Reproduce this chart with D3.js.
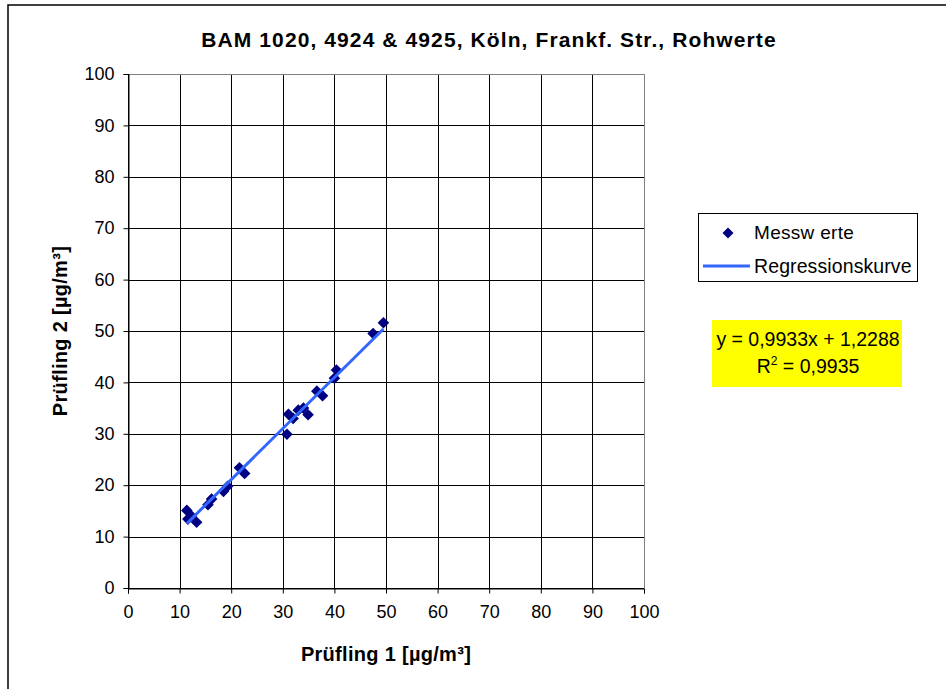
<!DOCTYPE html>
<html><head><meta charset="utf-8">
<script src="https://cdn.jsdelivr.net/npm/d3@7"></script>
<style>body{margin:0;background:#fff}svg{display:block;font-family:"Liberation Sans",Arial,sans-serif}</style>
</head><body><svg id="c" width="946" height="689"></svg>
<script>
const titleText = "BAM 1020, 4924 & 4925, Köln, Frankf. Str., Rohwerte";
const xTitle = "Prüfling 1 [µg/m³]";
const yTitle = "Prüfling 2 [µg/m³]";
const tickValues = [0,10,20,30,40,50,60,70,80,90,100];
const xValues = [11.4, 11.6, 12.3, 13.3, 15.5, 16.2, 18.5, 19.3, 21.6, 22.6, 30.8, 31.1, 32.0, 33.0, 34.0, 34.9, 36.6, 37.7, 40.0, 40.4, 47.5, 49.5];
const yValues = [15.1, 13.4, 14.0, 12.8, 16.2, 17.3, 18.8, 19.8, 23.4, 22.3, 29.9, 33.8, 33.0, 34.6, 35.0, 33.7, 38.3, 37.4, 40.8, 42.4, 49.5, 51.6];
const slope = 0.9933, intercept = 1.2288;
const eqLines = ["y = 0,9933x + 1,2288", "R² = 0,9935"];
const legendLabels = ["Messw erte", "Regressionskurve"];

const svg = d3.select("#c");
const x = d3.scaleLinear().domain([0,100]).range([128,644]);
const y = d3.scaleLinear().domain([0,100]).range([588,74]);

// outer frame
svg.append("rect").attr("x",8).attr("y",5).attr("width",960).attr("height",700)
  .attr("fill","none").attr("stroke","#000").attr("stroke-width",1.5);

// grid
const g = svg.append("g");
g.selectAll(".vg").data(tickValues).join("line")
  .attr("x1",d=>Math.round(x(d))+0.5).attr("x2",d=>Math.round(x(d))+0.5)
  .attr("y1",y(100)).attr("y2",y(0)).attr("stroke",d=>d===100?"#808080":"#000").attr("stroke-width",1);
g.selectAll(".hg").data(tickValues).join("line")
  .attr("y1",d=>Math.round(y(d))+0.5).attr("y2",d=>Math.round(y(d))+0.5)
  .attr("x1",x(0)).attr("x2",x(100)).attr("stroke",d=>d===100?"#808080":"#000").attr("stroke-width",1);

// axes
const xAxis = d3.axisBottom(x).tickValues(tickValues).tickSize(5).tickPadding(12);
const yAxis = d3.axisLeft(y).tickValues(tickValues).tickSize(5).tickPadding(9);
const gx = svg.append("g").attr("transform",`translate(0,${Math.round(y(0))+0.5})`).call(xAxis);
const gy = svg.append("g").attr("transform",`translate(${Math.round(x(0))+0.5},0)`).call(yAxis);
[gx,gy].forEach(a=>{
  a.select(".domain").attr("stroke","#000");
  a.selectAll(".tick line").attr("stroke","#000");
  a.selectAll("text").attr("font-size",18).attr("fill","#000").attr("font-family","Liberation Sans, Arial, sans-serif");
});

// regression line + points
const xMin = d3.min(xValues), xMax = d3.max(xValues);
const diamond = r => `M0,${-r}L${r},0L0,${r}L${-r},0Z`;
svg.append("g").selectAll("path").data(xValues.map((v,i)=>[v,yValues[i]])).join("path")
  .attr("d",diamond(5.8)).attr("fill","#000080")
  .attr("transform",d=>`translate(${x(d[0])},${y(d[1])})`);
svg.append("line")
  .attr("x1",x(xMin)).attr("y1",y(slope*xMin+intercept))
  .attr("x2",x(xMax)).attr("y2",y(slope*xMax+intercept))
  .attr("stroke","#3366FF").attr("stroke-width",3);

// titles
svg.append("text").attr("x",489).attr("y",47).attr("text-anchor","middle")
  .attr("font-size",21).attr("letter-spacing",1.1).attr("font-weight","bold").text(titleText);
svg.append("text").attr("x",386).attr("y",661).attr("text-anchor","middle")
  .attr("font-size",20).attr("letter-spacing",0.3).attr("font-weight","bold").text(xTitle);
svg.append("text").attr("transform","translate(67,331) rotate(-90)").attr("text-anchor","middle")
  .attr("font-size",20).attr("letter-spacing",0.3).attr("font-weight","bold").text(yTitle);

// legend
const lg = svg.append("g");
lg.append("rect").attr("x",698.5).attr("y",213.5).attr("width",219).attr("height",68)
  .attr("fill","#fff").attr("stroke","#000").attr("stroke-width",1);
lg.append("path").attr("d",diamond(5.5)).attr("fill","#000080").attr("transform","translate(728,233)");
lg.append("text").attr("x",754).attr("y",239).attr("font-size",19).attr("letter-spacing",0.3).text(legendLabels[0]);
lg.append("line").attr("x1",703).attr("x2",750).attr("y1",266).attr("y2",266)
  .attr("stroke","#3366FF").attr("stroke-width",3);
lg.append("text").attr("x",754).attr("y",273).attr("font-size",19.5).attr("letter-spacing",0.1).text(legendLabels[1]);

// equation box
const eq = svg.append("g");
eq.append("rect").attr("x",712).attr("y",320).attr("width",190).attr("height",67).attr("fill","#FFFF00");
eq.append("text").attr("x",808).attr("y",346).attr("text-anchor","middle").attr("font-size",19.5).text(eqLines[0]);
const t2 = eq.append("text").attr("x",808).attr("y",373).attr("text-anchor","middle").attr("font-size",19.5);
t2.append("tspan").text("R");
t2.append("tspan").attr("font-size",12).attr("dy",-8).text("2");
t2.append("tspan").attr("dy",8).text(" = 0,9935");
</script></body></html>
